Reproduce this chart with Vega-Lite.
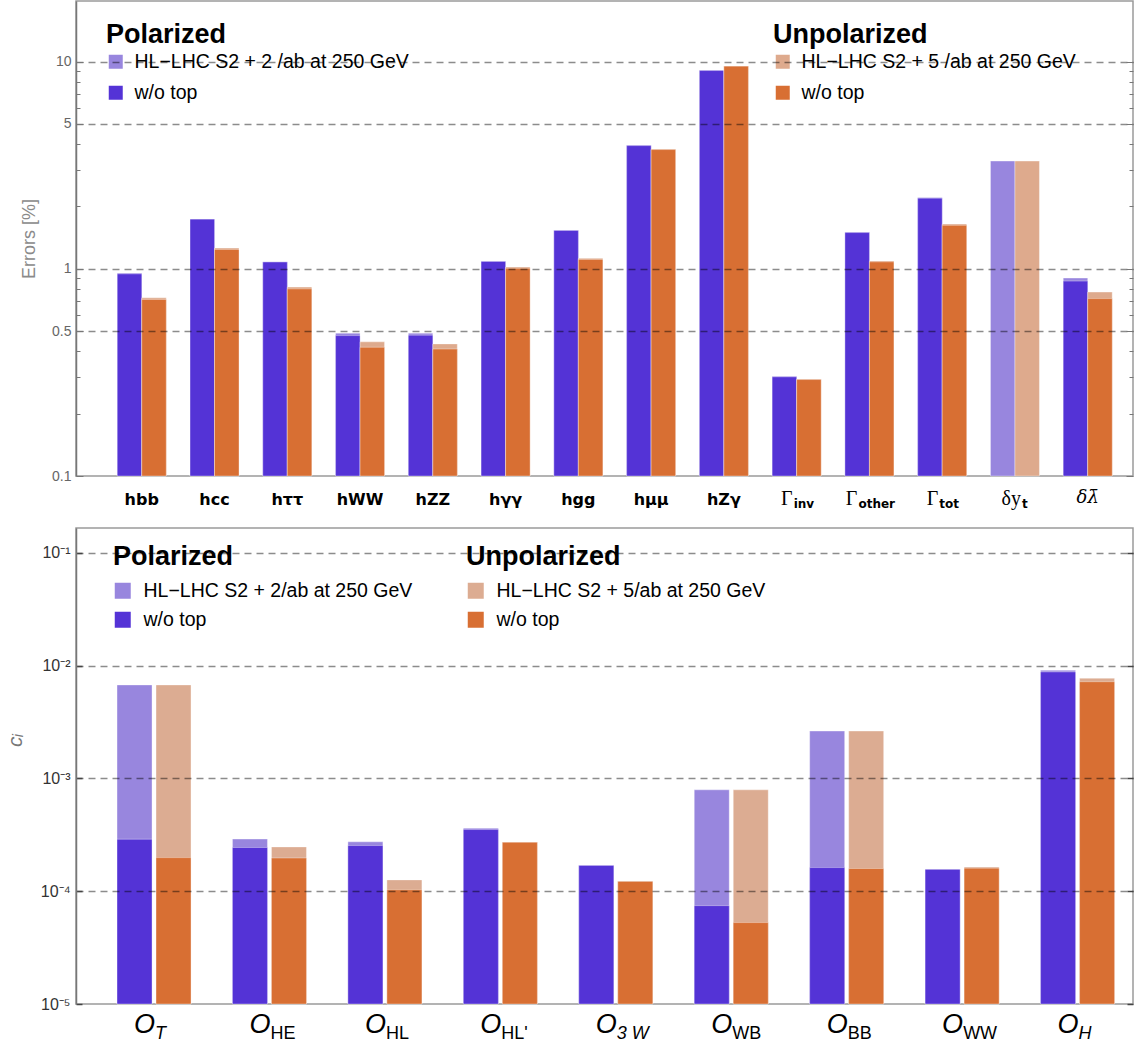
{
  "$schema": "https://vega.github.io/schema/vega-lite/v6.json",
  "padding": {"left": 3, "top": 0, "right": 4, "bottom": 0},
  "bounds": "flush",
  "spacing": 52,
  "resolve": {"scale": {"x": "independent", "xOffset": "independent"}},
  "config": {
    "font": "Liberation Sans",
    "view": {"stroke": "#9a9a9a", "strokeWidth": 1.5}
  },
  "datasets": {
    "top": [
      {"c": "hbb", "s": "P", "e": "full", "v": 0.952},
      {"c": "hcc", "s": "P", "e": "full", "v": 1.74},
      {"c": "hττ", "s": "P", "e": "full", "v": 1.082},
      {"c": "hWW", "s": "P", "e": "full", "v": 0.489},
      {"c": "hZZ", "s": "P", "e": "full", "v": 0.489},
      {"c": "hγγ", "s": "P", "e": "full", "v": 1.088},
      {"c": "hgg", "s": "P", "e": "full", "v": 1.535},
      {"c": "hμμ", "s": "P", "e": "full", "v": 3.94},
      {"c": "hZγ", "s": "P", "e": "full", "v": 9.07},
      {"c": "Γinv", "s": "P", "e": "full", "v": 0.302},
      {"c": "Γother", "s": "P", "e": "full", "v": 1.5},
      {"c": "Γtot", "s": "P", "e": "full", "v": 2.21},
      {"c": "δyt", "s": "P", "e": "full", "v": 3.31},
      {"c": "δλ", "s": "P", "e": "full", "v": 0.902},
      {"c": "hbb", "s": "P", "e": "wo", "v": 0.945},
      {"c": "hcc", "s": "P", "e": "wo", "v": 1.735},
      {"c": "hττ", "s": "P", "e": "wo", "v": 1.078},
      {"c": "hWW", "s": "P", "e": "wo", "v": 0.476},
      {"c": "hZZ", "s": "P", "e": "wo", "v": 0.478},
      {"c": "hγγ", "s": "P", "e": "wo", "v": 1.084},
      {"c": "hgg", "s": "P", "e": "wo", "v": 1.53},
      {"c": "hμμ", "s": "P", "e": "wo", "v": 3.93},
      {"c": "hZγ", "s": "P", "e": "wo", "v": 9.05},
      {"c": "Γinv", "s": "P", "e": "wo", "v": 0.301},
      {"c": "Γother", "s": "P", "e": "wo", "v": 1.495},
      {"c": "Γtot", "s": "P", "e": "wo", "v": 2.19},
      {"c": "δλ", "s": "P", "e": "wo", "v": 0.872},
      {"c": "hbb", "s": "U", "e": "full", "v": 0.724},
      {"c": "hcc", "s": "U", "e": "full", "v": 1.259},
      {"c": "hττ", "s": "U", "e": "full", "v": 0.816},
      {"c": "hWW", "s": "U", "e": "full", "v": 0.444},
      {"c": "hZZ", "s": "U", "e": "full", "v": 0.434},
      {"c": "hγγ", "s": "U", "e": "full", "v": 1.02},
      {"c": "hgg", "s": "U", "e": "full", "v": 1.123},
      {"c": "hμμ", "s": "U", "e": "full", "v": 3.77},
      {"c": "hZγ", "s": "U", "e": "full", "v": 9.53},
      {"c": "Γinv", "s": "U", "e": "full", "v": 0.293},
      {"c": "Γother", "s": "U", "e": "full", "v": 1.089},
      {"c": "Γtot", "s": "U", "e": "full", "v": 1.644},
      {"c": "δyt", "s": "U", "e": "full", "v": 3.31},
      {"c": "δλ", "s": "U", "e": "full", "v": 0.772},
      {"c": "hbb", "s": "U", "e": "wo", "v": 0.711},
      {"c": "hcc", "s": "U", "e": "wo", "v": 1.24},
      {"c": "hττ", "s": "U", "e": "wo", "v": 0.8},
      {"c": "hWW", "s": "U", "e": "wo", "v": 0.418},
      {"c": "hZZ", "s": "U", "e": "wo", "v": 0.41},
      {"c": "hγγ", "s": "U", "e": "wo", "v": 1.005},
      {"c": "hgg", "s": "U", "e": "wo", "v": 1.11},
      {"c": "hμμ", "s": "U", "e": "wo", "v": 3.76},
      {"c": "hZγ", "s": "U", "e": "wo", "v": 9.5},
      {"c": "Γinv", "s": "U", "e": "wo", "v": 0.292},
      {"c": "Γother", "s": "U", "e": "wo", "v": 1.08},
      {"c": "Γtot", "s": "U", "e": "wo", "v": 1.62},
      {"c": "δλ", "s": "U", "e": "wo", "v": 0.718}
    ],
    "bottom": [
      {"c": "T", "s": "P", "e": "full", "v": 0.00674},
      {"c": "HE", "s": "P", "e": "full", "v": 0.00029},
      {"c": "HL", "s": "P", "e": "full", "v": 0.000274},
      {"c": "HL'", "s": "P", "e": "full", "v": 0.000362},
      {"c": "3W", "s": "P", "e": "full", "v": 0.00017},
      {"c": "WB", "s": "P", "e": "full", "v": 0.000792},
      {"c": "BB", "s": "P", "e": "full", "v": 0.00263},
      {"c": "WW", "s": "P", "e": "full", "v": 0.000157},
      {"c": "H", "s": "P", "e": "full", "v": 0.0091},
      {"c": "T", "s": "P", "e": "wo", "v": 0.000289},
      {"c": "HE", "s": "P", "e": "wo", "v": 0.000244},
      {"c": "HL", "s": "P", "e": "wo", "v": 0.000254},
      {"c": "HL'", "s": "P", "e": "wo", "v": 0.000352},
      {"c": "3W", "s": "P", "e": "wo", "v": 0.000169},
      {"c": "WB", "s": "P", "e": "wo", "v": 0.0000745},
      {"c": "BB", "s": "P", "e": "wo", "v": 0.000162},
      {"c": "WW", "s": "P", "e": "wo", "v": 0.000156},
      {"c": "H", "s": "P", "e": "wo", "v": 0.0088},
      {"c": "T", "s": "U", "e": "full", "v": 0.00674},
      {"c": "HE", "s": "U", "e": "full", "v": 0.000247},
      {"c": "HL", "s": "U", "e": "full", "v": 0.000126},
      {"c": "HL'", "s": "U", "e": "full", "v": 0.000272},
      {"c": "3W", "s": "U", "e": "full", "v": 0.000123},
      {"c": "WB", "s": "U", "e": "full", "v": 0.000792},
      {"c": "BB", "s": "U", "e": "full", "v": 0.00263},
      {"c": "WW", "s": "U", "e": "full", "v": 0.000164},
      {"c": "H", "s": "U", "e": "full", "v": 0.00773},
      {"c": "T", "s": "U", "e": "wo", "v": 0.0001985},
      {"c": "HE", "s": "U", "e": "wo", "v": 0.000197},
      {"c": "HL", "s": "U", "e": "wo", "v": 0.000103},
      {"c": "HL'", "s": "U", "e": "wo", "v": 0.000271},
      {"c": "3W", "s": "U", "e": "wo", "v": 0.000122},
      {"c": "WB", "s": "U", "e": "wo", "v": 0.0000527},
      {"c": "BB", "s": "U", "e": "wo", "v": 0.000159},
      {"c": "WW", "s": "U", "e": "wo", "v": 0.00016},
      {"c": "H", "s": "U", "e": "wo", "v": 0.0072}
    ]
  },
  "vconcat": [
    {
      "width": 1057,
      "height": 475,
      "data": {"name": "top"},
      "layer": [
        {
          "transform": [{"filter": "datum.s == 'P'"}],
          "mark": {"type": "bar", "stroke": "white", "strokeOpacity": 0.35, "strokeWidth": 1},
          "encoding": {
            "x": {
              "field": "c", "type": "nominal",
              "scale": {"domain": ["hbb","hcc","hττ","hWW","hZZ","hγγ","hgg","hμμ","hZγ","Γinv","Γother","Γtot","δyt","δλ"], "paddingInner": 0.327, "paddingOuter": 0.4265, "align": 0.665},
              "axis": {"orient": "bottom", "title": null, "ticks": false, "domain": false, "labelAngle": 0, "labelColor": "#000", "labelOverlap": false,
                "labelExpr": "indexof(['Γinv','Γother','Γtot'], datum.value) >= 0 ? 'Γ' : datum.value == 'δyt' ? 'δy' : datum.value == 'δλ' ? 'δλ̄' : datum.value",
                "labelFont": {"condition": [{"test": "datum.value == 'δλ'", "value": "DejaVu Serif"}, {"test": "indexof(['Γinv','Γother','Γtot','δyt'], datum.value) >= 0", "value": "Liberation Serif"}], "value": "DejaVu Sans"},
                "labelFontStyle": {"condition": {"test": "datum.value == 'δλ'", "value": "italic"}, "value": "normal"},
                "labelFontWeight": {"condition": {"test": "indexof(['Γinv','Γother','Γtot','δyt','δλ'], datum.value) >= 0", "value": "normal"}, "value": "bold"},
                "labelFontSize": {"condition": [{"test": "datum.value == 'δλ'", "value": 18}, {"test": "indexof(['Γinv','Γother','Γtot','δyt'], datum.value) >= 0", "value": 20}], "value": 16},
                "labelPadding": {"condition": {"test": "indexof(['Γinv','Γother','Γtot','δyt','δλ'], datum.value) >= 0", "value": 12}, "value": 15},
                "labelAlign": {"condition": {"test": "indexof(['Γinv','Γother','Γtot','δyt'], datum.value) >= 0", "value": "right"}, "value": "center"},
                "labelOffset": {"condition": [{"test": "datum.value == 'Γother'", "value": -12}, {"test": "datum.value == 'δyt'", "value": 6}, {"test": "datum.value == 'Γinv' || datum.value == 'Γtot'", "value": -4}], "value": 0}
              }
            },
            "xOffset": {"field": "s", "type": "nominal", "scale": {"domain": ["P","U"], "paddingInner": 0, "paddingOuter": 0}},
            "y": {
              "field": "v", "type": "quantitative",
              "scale": {"type": "log", "domain": [0.1, 19.6], "nice": false},
              "axis": {
                "title": "Errors [%]", "titleColor": "#8a8a8a", "titleFontSize": 18, "titleFontWeight": "normal", "titlePadding": 13,
                "values": [0.1,0.2,0.3,0.4,0.5,0.6,0.7,0.8,0.9,1,2,3,4,5,6,7,8,9,10],
                "labelExpr": "datum.value == 0.1 ? '0.1' : datum.value == 0.5 ? '0.5' : datum.value == 1 ? '1' : datum.value == 5 ? '5' : datum.value == 10 ? '10' : ''",
                "labelColor": "#666", "labelFontSize": 14, "labelPadding": 12, "labelOverlap": false,
                "tickColor": "#777", "tickWidth": 1,
                "tickSize": {"condition": {"test": "indexof([0.1,0.5,1,5,10], datum.value) >= 0", "value": -7}, "value": -4},
                "grid": true, "gridColor": "#000", "gridDash": [7, 5], "gridWidth": 1.3,
                "gridOpacity": {"condition": {"test": "indexof([0.5,1,5,10], datum.value) >= 0", "value": 0.45}, "value": 0},
                "domainColor": "#777", "domainWidth": 1.5, "zindex": 1
              }
            },
            "y2": {"datum": 0.1},
            "color": {
              "field": "e", "type": "nominal",
              "scale": {"domain": ["full","wo"], "range": ["#9886DE","#5433D6"]},
              "legend": {"title": "Polarized", "orient": "none", "legendX": 30, "legendY": 21, "padding": 0,
                "titleFont": "Liberation Sans", "titleFontSize": 27, "titleFontWeight": "bold", "titleColor": "#000", "titlePadding": 3, "titleLimit": 400,
                "labelFontSize": 19.5, "labelColor": "#000", "labelLimit": 500, "labelOffset": 9,
                "labelExpr": "datum.label == 'full' ? 'HL−LHC S2 + 2 /ab at 250 GeV' : 'w/o top'",
                "symbolType": "square", "symbolSize": 196, "symbolStrokeWidth": 0, "symbolOpacity": 1, "rowPadding": 10}
            }
          }
        },
        {
          "transform": [{"filter": "datum.s == 'U'"}],
          "mark": {"type": "bar", "stroke": "white", "strokeOpacity": 0.35, "strokeWidth": 1},
          "encoding": {
            "x": {
              "field": "c", "type": "nominal",
              "scale": {"domain": ["hbb","hcc","hττ","hWW","hZZ","hγγ","hgg","hμμ","hZγ","Γinv","Γother","Γtot","δyt","δλ"], "paddingInner": 0.327, "paddingOuter": 0.4265, "align": 0.665},
              "axis": {"orient": "bottom", "title": null, "ticks": false, "domain": false, "labelAngle": 0, "labelColor": "#000", "labelOverlap": false,
                "labelExpr": "datum.value == 'Γinv' ? 'inv' : datum.value == 'Γother' ? 'other' : datum.value == 'Γtot' ? 'tot' : datum.value == 'δyt' ? 't' : ''",
                "labelFont": "DejaVu Sans", "labelFontWeight": "bold", "labelFontSize": 12, "labelPadding": 22, "labelAlign": "left",
                "labelOffset": {"condition": [{"test": "datum.value == 'Γother'", "value": -11}, {"test": "datum.value == 'δyt'", "value": 7}, {"test": "datum.value == 'Γinv' || datum.value == 'Γtot'", "value": -3}], "value": 0}
              }
            },
            "xOffset": {"field": "s", "type": "nominal", "scale": {"domain": ["P","U"], "paddingInner": 0, "paddingOuter": 0}},
            "y": {
              "field": "v", "type": "quantitative",
              "scale": {"type": "log", "domain": [0.1, 19.6], "nice": false},
              "axis": {
                "orient": "right", "title": null, "labels": false, "grid": false, "domain": false,
                "values": [0.1,0.2,0.3,0.4,0.5,0.6,0.7,0.8,0.9,1,2,3,4,5,6,7,8,9,10],
                "tickColor": "#777", "tickWidth": 1,
                "tickSize": {"condition": {"test": "indexof([0.1,0.5,1,5,10], datum.value) >= 0", "value": -7}, "value": -4},
                "zindex": 1
              }
            },
            "y2": {"datum": 0.1},
            "color": {
              "field": "e", "type": "nominal",
              "scale": {"domain": ["full","wo"], "range": ["#DEAA8D","#D86F33"]},
              "legend": {"title": "Unpolarized", "orient": "none", "legendX": 697, "legendY": 21, "padding": 0,
                "titleFont": "Liberation Sans", "titleFontSize": 27, "titleFontWeight": "bold", "titleColor": "#000", "titlePadding": 3, "titleLimit": 400,
                "labelFontSize": 19.5, "labelColor": "#000", "labelLimit": 500, "labelOffset": 9,
                "labelExpr": "datum.label == 'full' ? 'HL−LHC S2 + 5 /ab at 250 GeV' : 'w/o top'",
                "symbolType": "square", "symbolSize": 196, "symbolStrokeWidth": 0, "symbolOpacity": 1, "rowPadding": 10}
            }
          }
        }
      ],
      "resolve": {"scale": {"color": "independent"}, "axis": {"x": "independent", "y": "independent"}}
    },
    {
      "width": 1057,
      "height": 476,
      "data": {"name": "bottom"},
      "layer": [
        {
          "transform": [{"filter": "datum.s == 'P'"}],
          "mark": {"type": "bar", "stroke": "white", "strokeOpacity": 0.35, "strokeWidth": 1},
          "encoding": {
            "x": {
              "field": "c", "type": "nominal",
              "scale": {"domain": ["T","HE","HL","HL'","3W","WB","BB","WW","H"], "paddingInner": 0.359, "paddingOuter": 0.2575, "align": 0.69},
              "axis": {"orient": "bottom", "title": null, "ticks": false, "domain": false, "labelAngle": 0, "labelExpr": "'O'", "labelFontStyle": "italic", "labelFontSize": 27, "labelColor": "#000", "labelAlign": "right", "labelOffset": 1, "labelPadding": 7, "labelOverlap": false}
            },
            "xOffset": {"field": "s", "type": "nominal", "scale": {"domain": ["P","U"], "paddingInner": 0.1026, "paddingOuter": 0}},
            "y": {
              "field": "v", "type": "quantitative",
              "scale": {"type": "log", "domain": [0.00001, 0.166], "nice": false},
              "axis": {
                "title": "cᵢ", "titleColor": "#777", "titleFontSize": 21, "titleFontStyle": "italic", "titleFontWeight": "normal", "titlePadding": 15, "titleY": 212,
                "values": [0.00001, 0.0001, 0.001, 0.01, 0.1],
                "labelExpr": "'10' + (datum.value > 0.05 ? '⁻¹' : datum.value > 0.005 ? '⁻²' : datum.value > 0.0005 ? '⁻³' : datum.value > 0.00005 ? '⁻⁴' : '⁻⁵')",
                "labelColor": "#333", "labelFontSize": 16, "labelPadding": 12, "labelOverlap": false,
                "tickColor": "#444", "tickWidth": 1.5, "tickSize": -6,
                "grid": true, "gridColor": "#000", "gridDash": [7, 5], "gridWidth": 1.3,
                "gridOpacity": {"condition": {"test": "datum.value > 0.00002", "value": 0.45}, "value": 0},
                "domainColor": "#777", "domainWidth": 1.5, "zindex": 1
              }
            },
            "y2": {"datum": 0.00001},
            "color": {
              "field": "e", "type": "nominal",
              "scale": {"domain": ["full","wo"], "range": ["#9886DE","#5433D6"]},
              "legend": {"title": "Polarized", "orient": "none", "legendX": 37, "legendY": 16, "padding": 0,
                "titleFont": "Liberation Sans", "titleFontSize": 27, "titleFontWeight": "bold", "titleColor": "#000", "titlePadding": 10, "titleLimit": 400,
                "labelFontSize": 19.5, "labelColor": "#000", "labelLimit": 500, "labelOffset": 11,
                "labelExpr": "datum.label == 'full' ? 'HL−LHC S2 + 2/ab at 250 GeV' : 'w/o top'",
                "symbolType": "square", "symbolSize": 256, "symbolStrokeWidth": 0, "symbolOpacity": 1, "rowPadding": 8}
            }
          }
        },
        {
          "transform": [{"filter": "datum.s == 'U'"}],
          "mark": {"type": "bar", "stroke": "white", "strokeOpacity": 0.35, "strokeWidth": 1},
          "encoding": {
            "x": {
              "field": "c", "type": "nominal",
              "scale": {"domain": ["T","HE","HL","HL'","3W","WB","BB","WW","H"], "paddingInner": 0.359, "paddingOuter": 0.2575, "align": 0.69},
              "axis": {"orient": "bottom", "title": null, "ticks": false, "domain": false, "labelAngle": 0, "labelExpr": "datum.value == '3W' ? '3 W' : datum.value", "labelFontSize": 18, "labelColor": "#000", "labelAlign": "left", "labelOffset": 1, "labelPadding": 20, "labelOverlap": false,
                "labelFontStyle": {"condition": {"test": "datum.value == 'T' || datum.value == 'H' || datum.value == '3W'", "value": "italic"}, "value": "normal"}}
            },
            "xOffset": {"field": "s", "type": "nominal", "scale": {"domain": ["P","U"], "paddingInner": 0.1026, "paddingOuter": 0}},
            "y": {
              "field": "v", "type": "quantitative",
              "scale": {"type": "log", "domain": [0.00001, 0.166], "nice": false},
              "axis": {
                "orient": "right", "title": null, "labels": false, "grid": false, "domain": false,
                "values": [0.00001, 0.0001, 0.001, 0.01, 0.1],
                "tickColor": "#444", "tickWidth": 1.5, "tickSize": -6, "zindex": 1
              }
            },
            "y2": {"datum": 0.00001},
            "color": {
              "field": "e", "type": "nominal",
              "scale": {"domain": ["full","wo"], "range": ["#DCAC92","#D86F33"]},
              "legend": {"title": "Unpolarized", "orient": "none", "legendX": 390, "legendY": 16, "padding": 0,
                "titleFont": "Liberation Sans", "titleFontSize": 27, "titleFontWeight": "bold", "titleColor": "#000", "titlePadding": 10, "titleLimit": 400,
                "labelFontSize": 19.5, "labelColor": "#000", "labelLimit": 500, "labelOffset": 11,
                "labelExpr": "datum.label == 'full' ? 'HL−LHC S2 + 5/ab at 250 GeV' : 'w/o top'",
                "symbolType": "square", "symbolSize": 256, "symbolStrokeWidth": 0, "symbolOpacity": 1, "rowPadding": 8}
            }
          }
        }
      ],
      "resolve": {"scale": {"color": "independent"}, "axis": {"x": "independent", "y": "independent"}}
    }
  ]
}
